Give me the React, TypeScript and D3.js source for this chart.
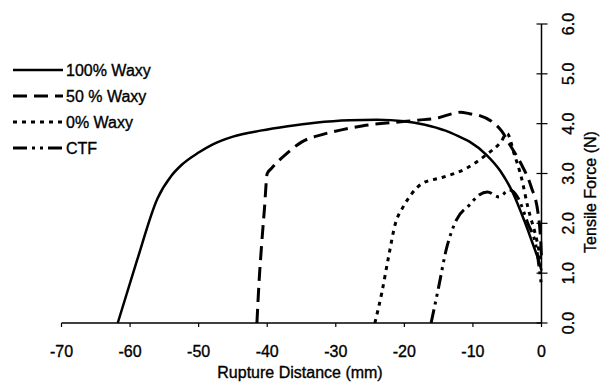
import React, { useEffect, useRef } from "react";
import * as d3 from "d3";

// [distance mm, force N]
const waxy100 = [
	[-61.8, 0], [-59, 1.25], [-56, 2.5], [-54, 2.95], [-52.5, 3.17], [-50, 3.42],
	[-48, 3.58], [-45, 3.74], [-41, 3.86], [-37, 3.95], [-33, 4.02], [-28, 4.07],
	[-24, 4.08], [-20, 4.05], [-17, 3.98], [-14, 3.86], [-12, 3.74], [-10.5, 3.64],
	[-8, 3.37], [-6, 3.05], [-4.2, 2.62], [-2.5, 2.05], [-1.3, 1.6], [-0.3, 1.2], [0, 1.05]
];
const waxy50 = [
	[-41.5, 0], [-41.2, 0.8], [-40.8, 1.6], [-40.4, 2.3], [-40, 3.0], [-39.4, 3.1],
	[-37, 3.42], [-35, 3.63], [-32, 3.78], [-29, 3.88], [-26, 3.96], [-22, 4.02],
	[-18, 4.07], [-15, 4.12], [-13, 4.2], [-11.8, 4.23], [-10.5, 4.2], [-9, 4.16],
	[-7.3, 4.05], [-5.8, 3.85], [-4.5, 3.55], [-3, 3.2], [-1.5, 2.73], [-0.5, 2.2],
	[-0.1, 1.6], [0, 1.3]
];
const waxy0 = [
	[-24.3, 0], [-23.3, 0.6], [-22.3, 1.33], [-21.3, 2.0], [-20.3, 2.3], [-19, 2.58],
	[-17.4, 2.8], [-14.5, 2.92], [-11, 3.1], [-8.1, 3.37], [-6, 3.62], [-5, 3.8],
	[-4, 3.4], [-2.9, 2.9], [-2, 2.33], [-0.7, 1.67], [0, 1.2]
];
const ctf = [
	[-16.1, 0], [-15, 0.72], [-13.9, 1.47], [-12.4, 2.07], [-10.5, 2.37], [-9.1, 2.57],
	[-7.9, 2.63], [-6.2, 2.53], [-4.7, 2.67], [-3.5, 2.53], [-2, 2.0], [-0.7, 1.47],
	[-0.3, 1.07], [0, 0.75]
];

const seriesNames = ["100% Waxy", "50 % Waxy", "0% Waxy", "CTF"];
const seriesData = [waxy100, waxy50, waxy0, ctf];
const dashes = ["none", "14 7", "4 5", "14 5 3 5 3 5"];

const xTicks = [-70, -60, -50, -40, -30, -20, -10, 0];
const yTicks = [0, 1, 2, 3, 4, 5, 6];

const font = "16px Arial, 'Liberation Sans', Helvetica, sans-serif";

export default function App() {
	const ref = useRef<SVGSVGElement>(null);

	useEffect(() => {
		const svg = d3.select(ref.current);
		svg.selectAll("*").remove();

		const x = d3.scaleLinear().domain([-70, 0]).range([61.5, 541.5]);
		const y = d3.scaleLinear().domain([0, 6]).range([323, 24]);

		// scanned text looks heavy, so give it a thin outline
		const label = (sel: any) => sel
			.style("font", font)
			.attr("fill", "#000")
			.attr("stroke", "#000")
			.attr("stroke-width", 0.35);

		// x axis
		svg.append("line")
			.attr("x1", x(-70)).attr("x2", x(0))
			.attr("y1", y(0)).attr("y2", y(0))
			.attr("stroke", "#000").attr("stroke-width", 1.5);
		svg.selectAll(".xt").data(xTicks).enter().append("line")
			.attr("x1", d => x(d)).attr("x2", d => x(d))
			.attr("y1", y(0)).attr("y2", y(0) + 4)
			.attr("stroke", "#000").attr("stroke-width", 1.2);
		svg.selectAll(".xl").data(xTicks).enter().append("text")
			.attr("x", d => x(d)).attr("y", 357)
			.attr("text-anchor", "middle")
			.call(label)
			.text(d => d);
		svg.append("text")
			.attr("x", 300).attr("y", 378)
			.attr("text-anchor", "middle")
			.call(label)
			.text("Rupture Distance (mm)");

		// y axis on the right
		svg.append("line")
			.attr("x1", x(0)).attr("x2", x(0))
			.attr("y1", y(0)).attr("y2", y(6))
			.attr("stroke", "#000").attr("stroke-width", 1.5);
		svg.selectAll(".yt").data(yTicks).enter().append("line")
			.attr("x1", x(0) - 5).attr("x2", x(0) + 6)
			.attr("y1", d => y(d)).attr("y2", d => y(d))
			.attr("stroke", "#000").attr("stroke-width", 1.2);
		svg.selectAll(".yl").data(yTicks).enter().append("text")
			.attr("transform", d => `translate(568,${y(d)}) rotate(-90)`)
			.attr("text-anchor", "middle")
			.attr("dy", "0.35em")
			.call(label)
			.text(d => d3.format(".1f")(d));
		svg.append("text")
			.attr("transform", "translate(590,192) rotate(-90)")
			.attr("text-anchor", "middle")
			.attr("dy", "0.35em")
			.call(label)
			.text("Tensile Force (N)");

		const line = d3.line<number[]>()
			.x(d => x(d[0]))
			.y(d => y(d[1]))
			.curve(d3.curveMonotoneX);

		seriesData.forEach((s, i) => {
			svg.append("path")
				.attr("d", line(s))
				.attr("fill", "none")
				.attr("stroke", "#000")
				.attr("stroke-width", i === 0 ? 2.5 : 3)
				.attr("stroke-dasharray", dashes[i]);
		});

		// legend
		const legendY = [70, 96, 122, 148];
		seriesNames.forEach((name, i) => {
			svg.append("line")
				.attr("x1", 13).attr("x2", 63)
				.attr("y1", legendY[i]).attr("y2", legendY[i])
				.attr("stroke", "#000")
				.attr("stroke-width", i === 0 ? 2.5 : 3)
				.attr("stroke-dasharray", dashes[i]);
			svg.append("text")
				.attr("x", 66).attr("y", legendY[i])
				.attr("dy", "0.35em")
				.call(label)
				.text(name);
		});
	}, []);

	return (
		<svg ref={ref} width={610} height={385}
			style={{ position: "absolute", left: 0, top: 0, background: "#fff" }} />
	);
}
